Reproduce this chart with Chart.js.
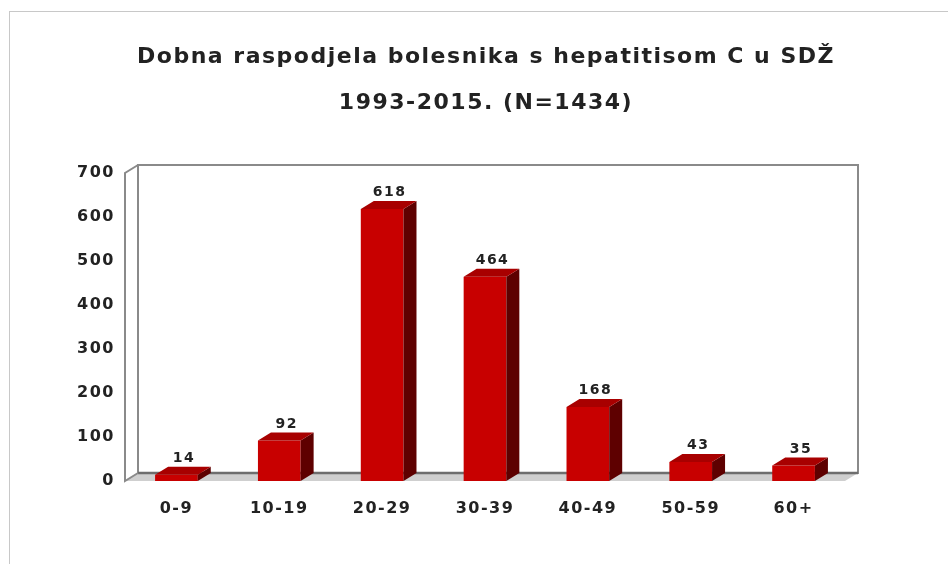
<!DOCTYPE html>
<html>
<head>
<meta charset="utf-8">
<script src="https://cdn.jsdelivr.net/npm/chart.js@4"></script>
<style>
  html, body { margin: 0; padding: 0; background: #fff; overflow: hidden; }
  #frame { position: absolute; left: 9px; top: 11px; width: 960px; height: 600px;
           border-top: 1px solid #c8c8c8; border-left: 1px solid #c8c8c8; }
  #c { position: absolute; left: 0; top: 0; }
</style>
</head>
<body>
<div id="frame"></div>
<canvas id="c" width="948" height="564"></canvas>
<script>
const titleLines = ['Dobna raspodjela bolesnika s hepatitisom C u SDŽ', '1993-2015. (N=1434)'];
const ageGroups = ['0-9', '10-19', '20-29', '30-39', '40-49', '50-59', '60+'];
const patients = [14, 92, 618, 464, 168, 43, 35];
const yMin = 0;
const yMax = 700;
const yStep = 100;

const FONT = "'DejaVu Sans', 'Liberation Sans', Arial, sans-serif";
const DX = 13, DY = 8;

const spacingPlugin = {
  id: 'spacing',
  beforeDraw(chart) { chart.ctx.letterSpacing = '1.5px'; },
  afterDraw(chart) { chart.ctx.letterSpacing = '0px'; }
};

const frame3d = {
  id: 'frame3d',
  beforeDatasetsDraw(chart) {
    const { ctx, chartArea: a } = chart;
    const L = a.left, R = a.right, T = a.top, B = a.bottom;
    ctx.save();
    // floor
    ctx.fillStyle = '#cfcfcf';
    ctx.beginPath();
    ctx.moveTo(L, B); ctx.lineTo(L + DX, B - DY); ctx.lineTo(R + DX, B - DY); ctx.lineTo(R, B);
    ctx.closePath(); ctx.fill();
    // back wall
    ctx.strokeStyle = '#8a8a8a';
    ctx.lineWidth = 2;
    ctx.strokeRect(L + DX, T - DY, R - L, B - T);
    // back floor edge
    ctx.strokeStyle = '#6e6e6e';
    ctx.lineWidth = 2.5;
    ctx.beginPath(); ctx.moveTo(L + DX, B - DY); ctx.lineTo(R + DX, B - DY); ctx.stroke();
    // left wall
    ctx.strokeStyle = '#8a8a8a';
    ctx.lineWidth = 2;
    ctx.beginPath();
    ctx.moveTo(L + DX, T - DY); ctx.lineTo(L, T); ctx.lineTo(L, B); ctx.lineTo(L + DX, B - DY);
    ctx.stroke();
    ctx.restore();
  },
  afterDatasetsDraw(chart) {
    const { ctx } = chart;
    const meta = chart.getDatasetMeta(0);
    ctx.save();
    meta.data.forEach((bar, i) => {
      const { x, y, base, width } = bar.getProps(['x', 'y', 'base', 'width'], true);
      const l = x - width / 2, r = x + width / 2;
      // side
      ctx.fillStyle = '#5e0000';
      ctx.beginPath();
      ctx.moveTo(r, y); ctx.lineTo(r + DX, y - DY); ctx.lineTo(r + DX, base - DY); ctx.lineTo(r, base);
      ctx.closePath(); ctx.fill();
      // top
      ctx.fillStyle = '#a80000';
      ctx.beginPath();
      ctx.moveTo(l, y); ctx.lineTo(l + DX, y - DY); ctx.lineTo(r + DX, y - DY); ctx.lineTo(r, y);
      ctx.closePath(); ctx.fill();
      // value label
      ctx.fillStyle = '#222';
      ctx.font = 'bold 14px ' + FONT;
      ctx.letterSpacing = '1.5px';
      ctx.textAlign = 'center';
      ctx.textBaseline = 'alphabetic';
      ctx.fillText(String(patients[i]), x + DX / 2 + 1, y - DY - 5);
    });
    ctx.restore();
  }
};

new Chart(document.getElementById('c'), {
  type: 'bar',
  data: {
    labels: ageGroups,
    datasets: [{
      data: patients,
      backgroundColor: '#c80000',
      borderWidth: 0,
      barPercentage: 0.415,
      categoryPercentage: 1.0
    }]
  },
  options: {
    responsive: false,
    animation: false,
    devicePixelRatio: 1,
    layout: { padding: { left: 24, right: 0, top: 0, bottom: 33 } },
    plugins: {
      legend: { display: false },
      tooltip: { enabled: false },
      title: {
        display: true,
        text: titleLines,
        color: '#222',
        font: { family: FONT, weight: 'bold', size: 22, lineHeight: 46 / 22 },
        padding: { top: 34, bottom: 47 }
      }
    },
    scales: {
      x: {
        grid: { display: false, drawTicks: false },
        border: { display: false },
        ticks: { color: '#222', font: { family: FONT, weight: 'bold', size: 16 }, padding: 18, maxRotation: 0 },
        afterFit(s) { s.height = 50; }
      },
      y: {
        min: yMin, max: yMax,
        grid: { display: false, drawTicks: false },
        border: { display: false },
        ticks: { stepSize: yStep, color: '#222', font: { family: FONT, weight: 'bold', size: 16 }, padding: 10 },
        afterFit(s) { s.width = 101; }
      },
      yR: {
        type: 'linear',
        position: 'right',
        display: true,
        grid: { display: false, drawTicks: false },
        border: { display: false },
        ticks: { display: false },
        afterFit(s) { s.width = 103; }
      }
    }
  },
  plugins: [spacingPlugin, frame3d]
});
</script>
</body>
</html>
